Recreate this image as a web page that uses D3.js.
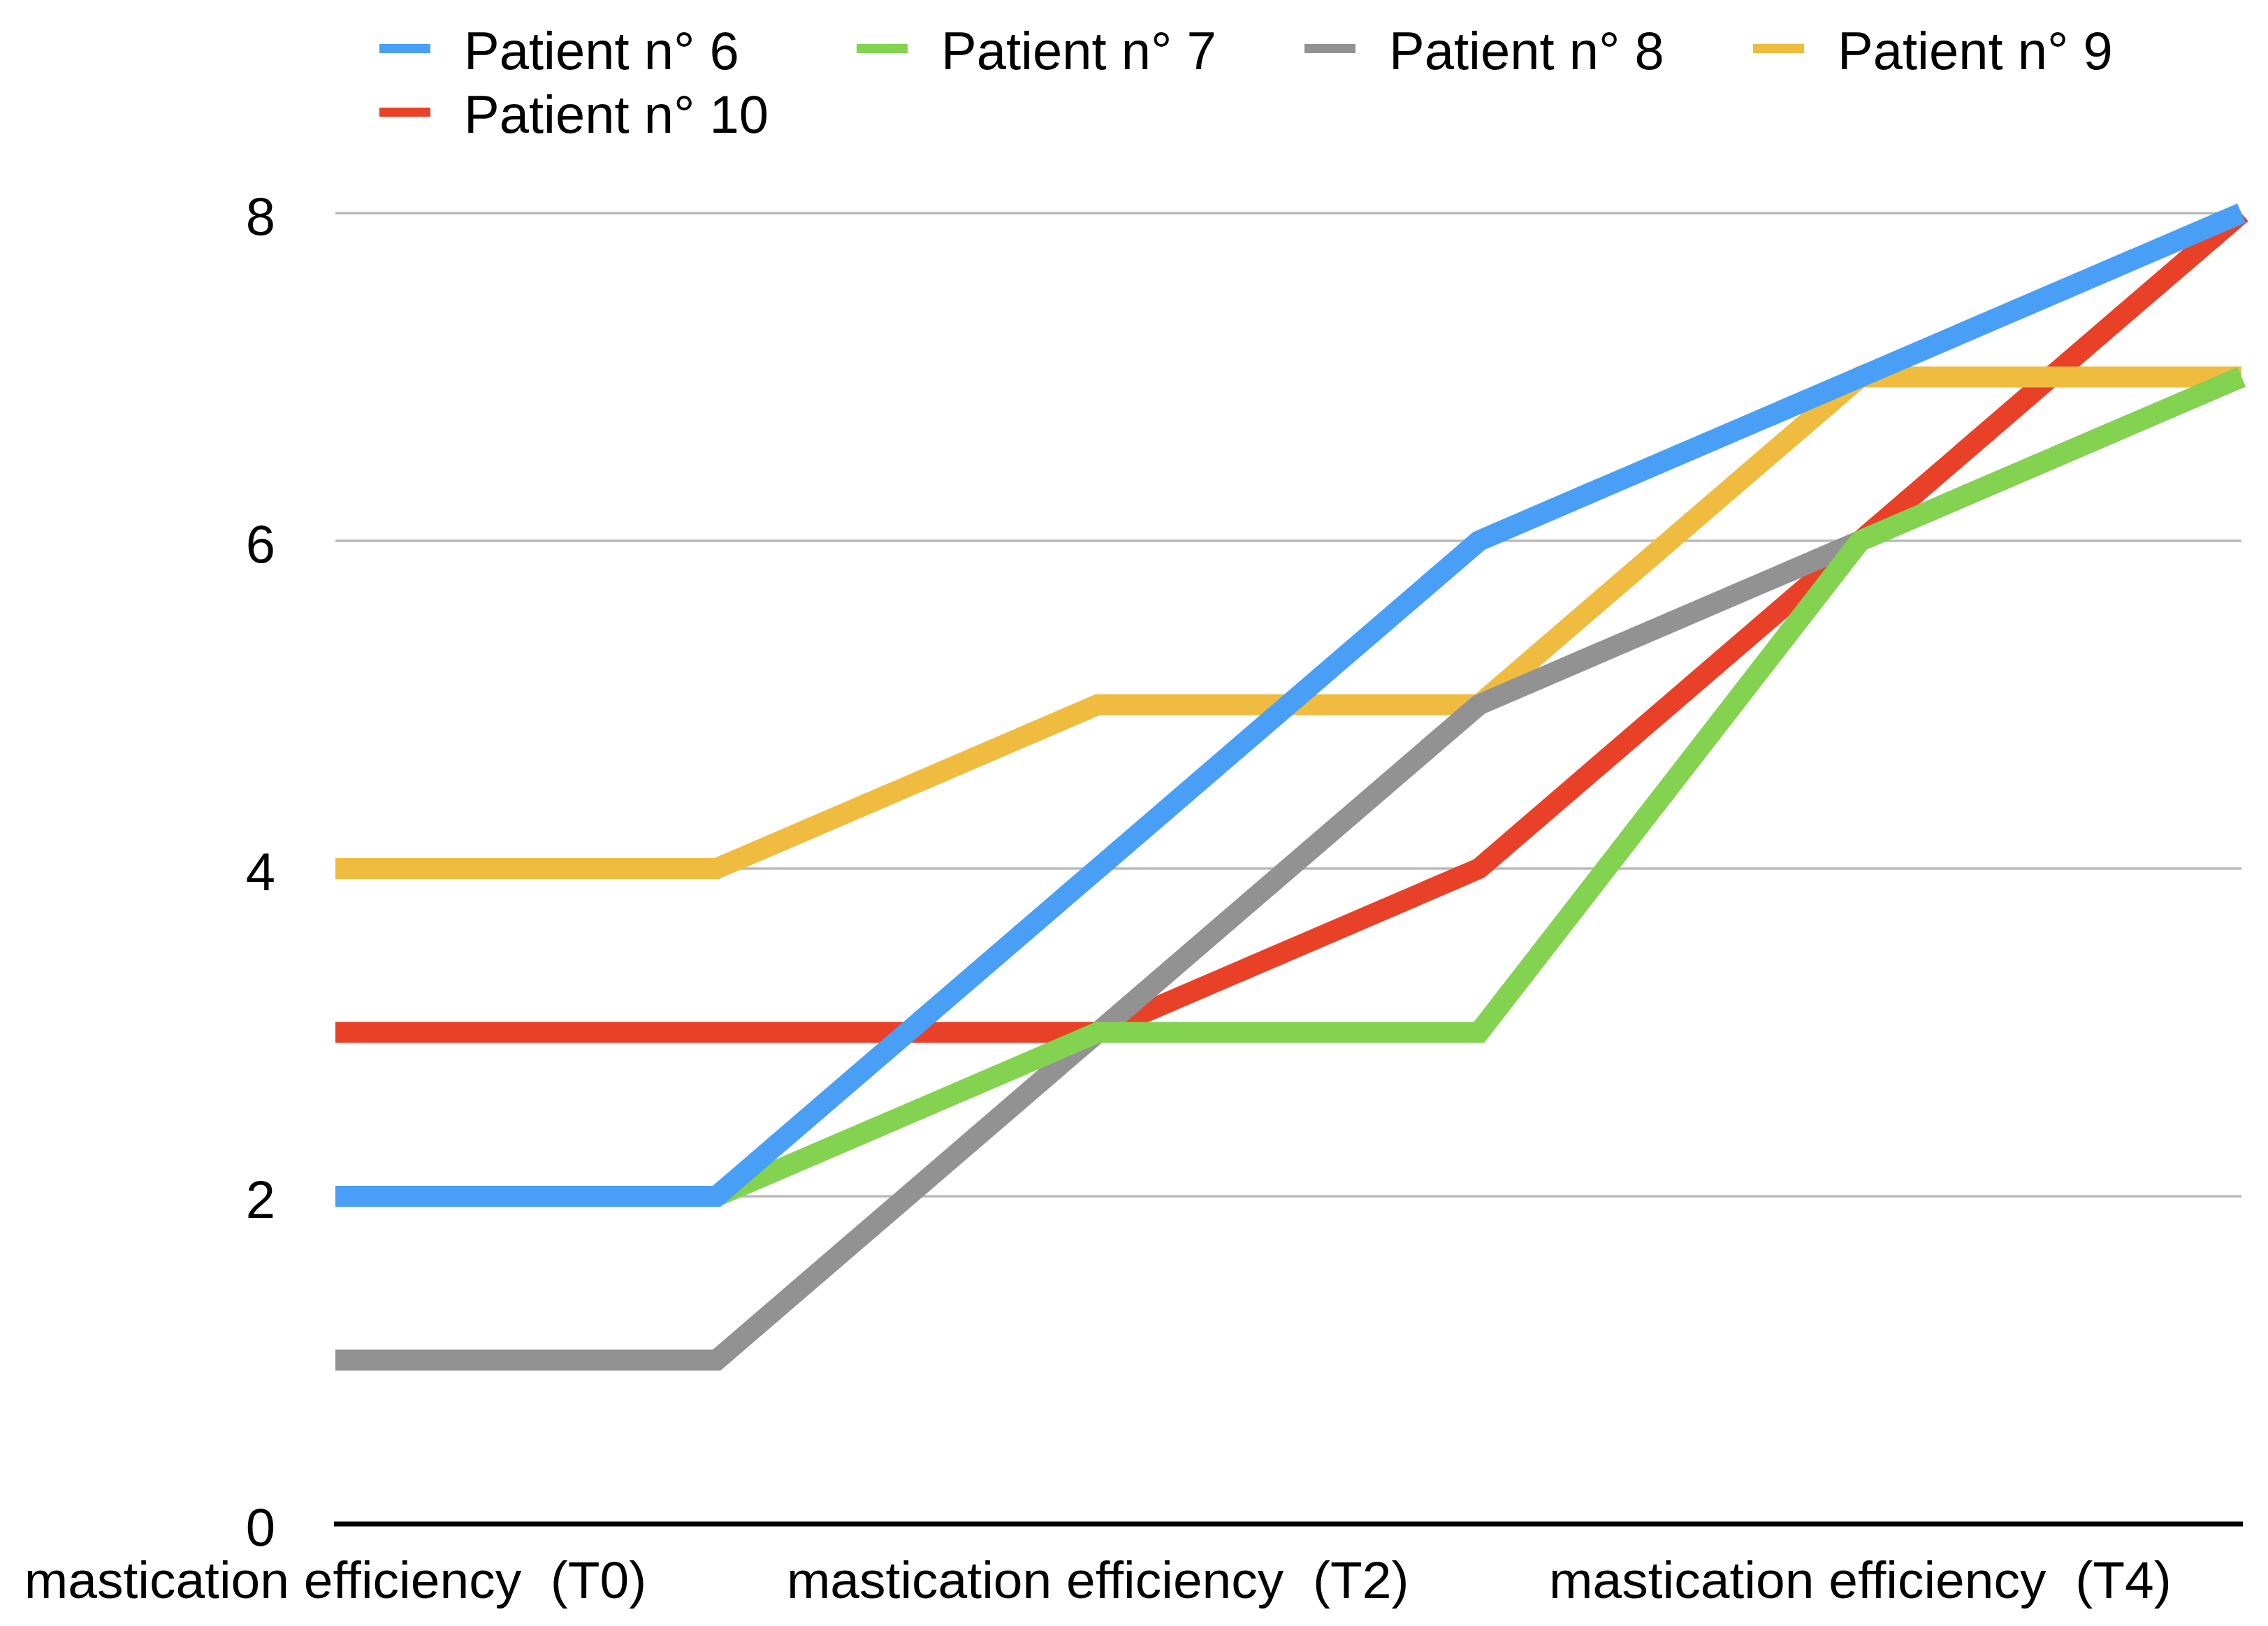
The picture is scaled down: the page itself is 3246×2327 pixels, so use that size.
<!DOCTYPE html>
<html>
<head>
<meta charset="utf-8">
<script src="https://cdn.jsdelivr.net/npm/d3@7"></script>
<style>
  body { margin: 0; background: #fff; }
  text { font-family: "Liberation Sans", Arial, Helvetica, sans-serif; fill: #000; white-space: pre; }
</style>
</head>
<body>
<div id="chart"></div>
<script>
// categories (only every other one is labelled in the original)
const categories = [
    "mastication efficiency  (T0)",
    "mastication efficiency  (T1)",
    "mastication efficiency  (T2)",
    "mastication efficiency  (T3)",
    "mastication efficiency  (T4)",
    "mastication efficiency  (T5)"
];
const seriesNames = ["Patient n° 6", "Patient n° 7", "Patient n° 8", "Patient n° 9", "Patient n° 10"];
const patient6 = [2, 2, 4, 6, 7, 8];
const patient7 = [2, 2, 3, 3, 6, 7];
const patient8 = [1, 1, 3, 5, 6, 7];
const patient9 = [4, 4, 5, 5, 7, 7];
const patient10 = [3, 3, 3, 4, 6, 8];
const yTicks = [0, 2, 4, 6, 8];

const colors = ["#489ff5", "#83d350", "#929292", "#efbc40", "#e84128"];
const seriesValues = [patient6, patient7, patient8, patient9, patient10];

const width = 3246;
const height = 2327;
const margin = { top: 305, bottom: 146, left: 480, right: 38 };

const svg = d3.select("#chart")
    .append("svg")
    .attr("width", width)
    .attr("height", height)
    .attr("viewBox", [0, 0, width, height]);

const x = d3.scalePoint()
    .domain(categories)
    .range([margin.left, width - margin.right]);

const y = d3.scaleLinear()
    .domain([0, 8])
    .range([height - margin.bottom, margin.top]);

// gridlines
svg.append("g")
    .selectAll("line")
    .data(yTicks.filter(d => d > 0))
    .join("line")
        .attr("x1", margin.left)
        .attr("x2", width - margin.right)
        .attr("y1", d => y(d))
        .attr("y2", d => y(d))
        .attr("stroke", "#bababa")
        .attr("stroke-width", 3.5);

// y labels
svg.append("g")
    .selectAll("text")
    .data(yTicks)
    .join("text")
        .attr("x", 394)
        .attr("y", d => y(d) + 4)
        .attr("text-anchor", "end")
        .attr("dominant-baseline", "central")
        .attr("font-size", "76px")
        .text(d => d);

// baseline axis
svg.append("line")
    .attr("x1", margin.left - 2)
    .attr("x2", width - margin.right + 2)
    .attr("y1", y(0))
    .attr("y2", y(0))
    .attr("stroke", "#000")
    .attr("stroke-width", 7);

// x labels, every other category
svg.append("g")
    .selectAll("text")
    .data(categories.filter((d, i) => i % 2 === 0))
    .join("text")
        .attr("x", d => x(d))
        .attr("y", 2287)
        .attr("text-anchor", "middle")
        .attr("font-size", "75px")
        .attr("xml:space", "preserve")
        .text(d => d);

const line = d3.line()
    .x((d, i) => x(categories[i]))
    .y(d => y(d));

// draw last series first so Patient 6 ends up on top
const order = d3.range(seriesValues.length).reverse();
svg.append("g")
    .selectAll("path")
    .data(order)
    .join("path")
        .attr("d", i => line(seriesValues[i]))
        .attr("fill", "none")
        .attr("stroke", i => colors[i])
        .attr("stroke-width", 30)
        .attr("stroke-linejoin", "miter")
        .attr("stroke-linecap", "butt");

// legend
const legendX = [543, 1226, 1867, 2509];
const legendY = [99, 190];
const legend = svg.append("g")
    .selectAll("g")
    .data(seriesNames)
    .join("g")
        .attr("transform", (d, i) => `translate(${legendX[i % 4]}, ${legendY[Math.floor(i / 4)]})`);

legend.append("rect")
    .attr("x", 0)
    .attr("y", -36)
    .attr("width", 73)
    .attr("height", 13)
    .attr("fill", (d, i) => colors[i]);

legend.append("text")
    .attr("x", 121)
    .attr("y", 0)
    .attr("font-size", "76px")
    .text(d => d);
</script>
</body>
</html>
